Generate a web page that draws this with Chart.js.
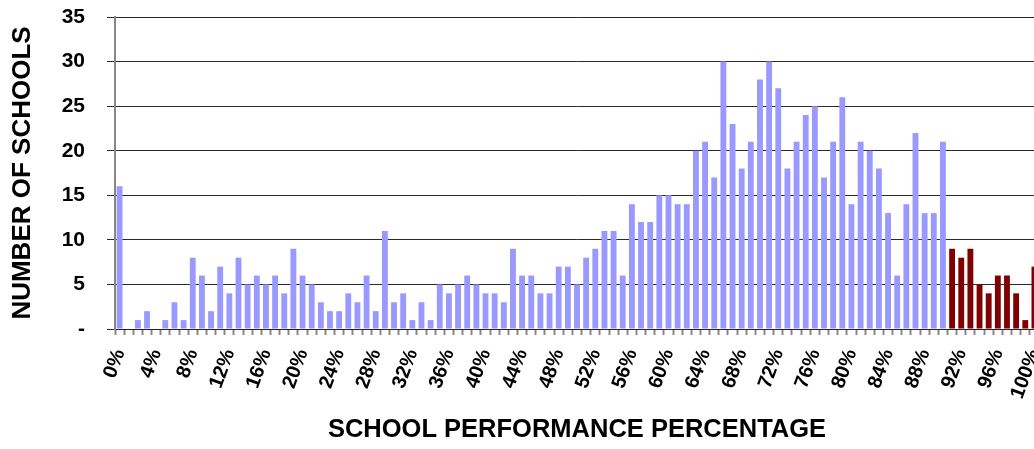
<!DOCTYPE html>
<html>
<head>
<meta charset="utf-8">
<script src="https://cdn.jsdelivr.net/npm/chart.js@4/dist/chart.umd.min.js"></script>
<style>
  html, body { margin: 0; padding: 0; background: #ffffff; overflow: hidden; width: 1034px; height: 449px; }
  canvas { display: block; }
</style>
</head>
<body>
<canvas id="c" width="1039" height="449"></canvas>
<script>
// Categories: school performance percentage 0% .. 100%
const categories = Array.from({ length: 101 }, (_, i) => i + '%');

// Number of schools, 0% .. 90% (light blue bars)
const belowValues = [
  16, 0, 1, 2, 0, 1, 3, 1, 8, 6, 2, 7, 4, 8, 5, 6, 5, 6, 4, 9, 6, 5, 3, 2, 2,
  4, 3, 6, 2, 11, 3, 4, 1, 3, 1, 5, 4, 5, 6, 5, 4, 4, 3, 9, 6, 6, 4, 4, 7, 7,
  5, 8, 9, 11, 11, 6, 14, 12, 12, 15, 15, 14, 14, 20, 21, 17, 30, 23, 18, 21, 28, 30, 27, 18, 21,
  24, 25, 17, 21, 26, 14, 21, 20, 18, 13, 6, 14, 22, 13, 13, 21
];
// Number of schools, 91% .. 100% (dark red bars)
const aboveValues = [9, 8, 9, 5, 4, 6, 6, 4, 1, 7];

// Y-axis tick values
const yTicks = [0, 5, 10, 15, 20, 25, 30, 35];

const allValues = belowValues.concat(aboveValues);
const FONT = 'Liberation Sans, Arial, sans-serif';

new Chart(document.getElementById('c'), {
  type: 'bar',
  data: {
    labels: categories,
    datasets: [{
      data: allValues,
      backgroundColor: (ctx) => ctx.dataIndex < belowValues.length ? '#9999FF' : '#800000',
      barPercentage: 0.64,
      categoryPercentage: 1.0,
      borderWidth: 0
    }]
  },
  options: {
    responsive: false,
    animation: false,
    devicePixelRatio: 1,
    layout: { padding: { left: 0, right: 0, top: 17, bottom: 0 } },
    plugins: { legend: { display: false }, tooltip: { enabled: false } },
    scales: {
      x: {
        afterFit: (s) => { s.paddingRight = 0; s.paddingLeft = 0; s.height = 120; },
        grid: {
          display: true,
          drawOnChartArea: false,
          drawTicks: true,
          tickLength: 6,
          tickWidth: 2,
          tickColor: '#888888',
          offset: true
        },
        border: { display: true, color: '#222222', width: 1 },
        ticks: {
          autoSkip: false,
          minRotation: 70,
          maxRotation: 70,
          padding: 11,
          color: '#000000',
          font: { family: FONT, size: 20, weight: 'bold' },
          callback: function (value, index) {
            return index % 4 === 0 ? categories[index] : '';
          }
        },
        title: {
          display: true,
          text: 'SCHOOL PERFORMANCE PERCENTAGE',
          color: '#000000',
          font: { family: FONT, size: 25.5, weight: 'bold' },
          padding: { top: 0, bottom: 4 }
        }
      },
      y: {
        min: 0,
        max: 35,
        afterFit: (s) => { s.width = 115; s.paddingTop = 0; s.paddingBottom = 0; },
        afterBuildTicks: (s) => { s.ticks = yTicks.map(v => ({ value: v })); },
        grid: {
          color: '#2a2a2a',
          lineWidth: 1,
          tickLength: 8,
          tickColor: '#2a2a2a'
        },
        border: { display: true, color: '#888888', width: 2 },
        ticks: {
          padding: 22,
          color: '#000000',
          font: { family: FONT, size: 21, weight: 'bold' },
          callback: (v) => v === 0 ? '-' : String(v)
        },
        title: {
          display: true,
          text: 'NUMBER OF SCHOOLS',
          color: '#000000',
          font: { family: FONT, size: 26, weight: 'bold' },
          padding: { top: 7, bottom: 0 }
        }
      }
    }
  }
});
</script>
</body>
</html>
